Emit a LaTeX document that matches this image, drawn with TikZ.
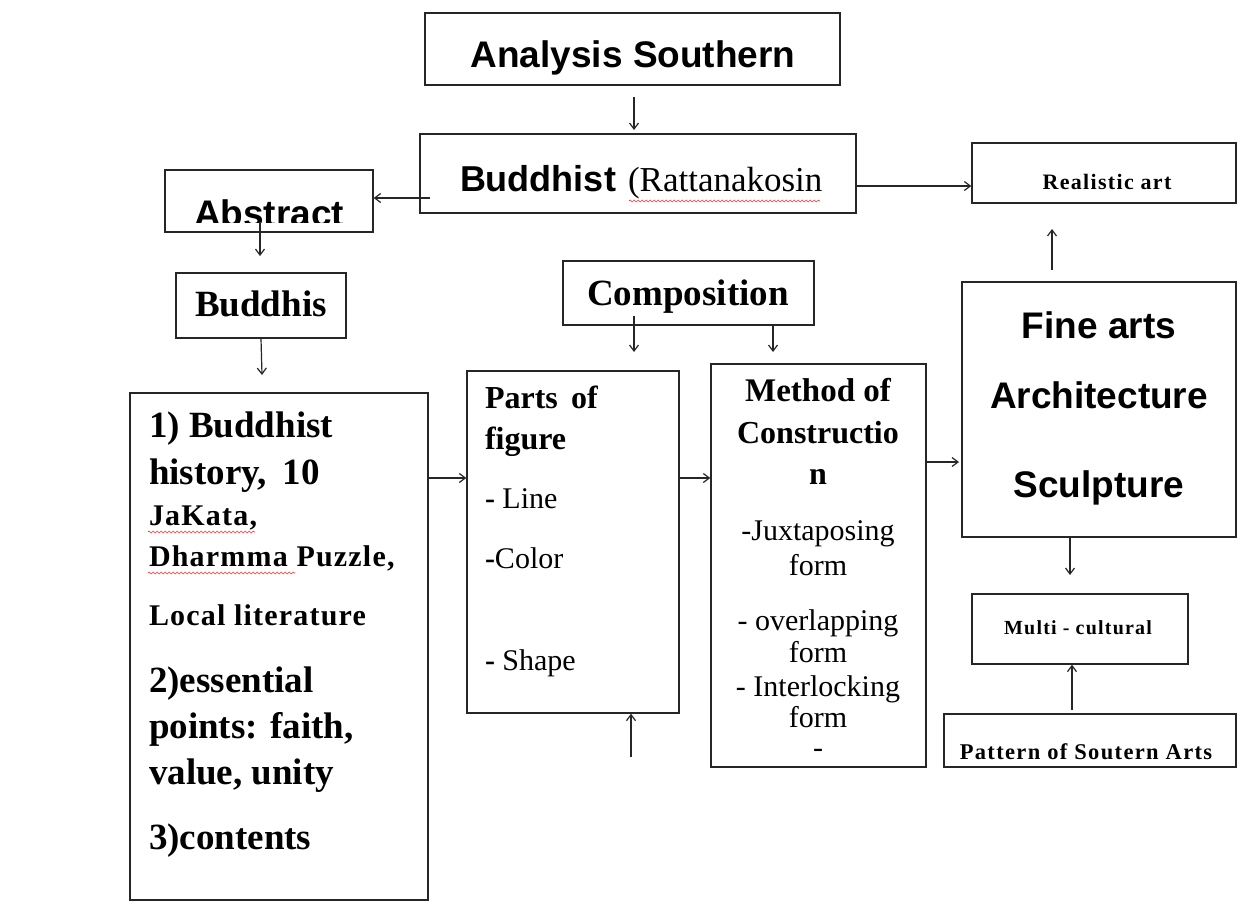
\documentclass[tikz,border=0pt]{standalone}
\usepackage{fontspec}
\setmainfont{Liberation Serif}
\newfontfamily\arialf{Liberation Sans}
\usetikzlibrary{arrows.meta,decorations.pathmorphing}
\tikzset{
  box/.style={draw=black!85, line width=1.4pt, rectangle, inner sep=0pt},
  conn/.style={draw=black!85, line width=1.2pt, -{Straight Barb[length=6pt,width=9pt]}},
  txt/.style={inner sep=0pt, outer sep=0pt},
  wavy/.style={draw=red!80, line width=0.6pt, decorate, decoration={snake, segment length=4pt, amplitude=1pt}},
  sansb/.style={font=\arialf\bfseries\fontsize{37}{42}\selectfont},
  serb/.style={font=\bfseries\fontsize{37}{42}\selectfont},
  serm/.style={font=\bfseries\fontsize{30}{34}\selectfont\addfontfeature{LetterSpace=4}},
  partb/.style={font=\bfseries\fontsize{32}{36}\selectfont},
  partr/.style={font=\fontsize{30}{34}\selectfont},
  smallb/.style={font=\bfseries\fontsize{22}{26}\selectfont\addfontfeature{LetterSpace=6}},
}
\begin{document}
\begin{tikzpicture}[x=1pt,y=-1pt]
\useasboundingbox (0,0) rectangle (1248,903);
\fill[white] (0,0) rectangle (1248,903);
% boxes
\node[box, minimum width=415, minimum height=72] (analysis) at (632.5,49) {};
\node[box, minimum width=436, minimum height=79] (buddhist) at (638,173.5) {};
\node[box, minimum width=208, minimum height=62] (abstract) at (269,201) {};
\node[box, minimum width=170, minimum height=65] (buddhis) at (261,305.5) {};
\node[box, minimum width=298, minimum height=507] (big) at (279,646.5) {};
\node[box, minimum width=251, minimum height=64] (compo) at (688.5,293) {};
\node[box, minimum width=212, minimum height=342] (parts) at (573,542) {};
\node[box, minimum width=215, minimum height=403] (method) at (818.5,565.5) {};
\node[box, minimum width=264, minimum height=60] (real) at (1104,173) {};
\node[box, minimum width=274, minimum height=255] (fine) at (1099,409.5) {};
\node[box, minimum width=216, minimum height=70] (multi) at (1080,629) {};
\node[box, minimum width=292, minimum height=53] (pattern) at (1090,740.5) {};
% texts
\node[txt, sansb, anchor=base] (tanalysis) at (633,67) {Analysis Southern};
\node[txt, sansb, font=\arialf\bfseries\fontsize{36}{40}\selectfont, anchor=base west] (tbud) at (460,191) {Buddhist};
\node[txt, anchor=base west, font=\fontsize{35}{40}\selectfont] (trat) at (628,191) {(Rattanakosin};
\draw[wavy] (629,201) -- (820,201);
\begin{scope}
\clip (165,170) rectangle (373,222);
\node[txt, sansb, anchor=base west] (tabs) at (194,226) {Abstract};
\end{scope}
\node[txt, serb, anchor=base] (tbuddhis) at (261,316) {Buddhis};
\node[txt, serb, anchor=base] (tcompo) at (688,305) {Composition};
% big box text
\node[txt, serb, anchor=base west] (b1) at (149,437) {1) Buddhist};
\node[txt, serb, anchor=base west] (b2) at (149,484) {history,\, 10};
\node[txt, serm, anchor=base west] (b3) at (149,525) {JaKata,};
\draw[wavy] (148,532) -- (255,532);
\node[txt, serm, anchor=base west] (b4) at (149,566) {Dharmma Puzzle,};
\draw[wavy] (148,573) -- (295,573);
\node[txt, serm, anchor=base west] (b5) at (149,625) {Local literature};
\node[txt, serb, anchor=base west] (b6) at (149,692) {2)essential};
\node[txt, serb, anchor=base west] (b7) at (149,738) {points: faith,};
\node[txt, serb, anchor=base west] (b8) at (149,784) {value, unity};
\node[txt, serb, anchor=base west] (b9) at (149,849) {3)contents};
% parts text
\node[txt, partb, anchor=base west] (p1) at (485,408) {Parts\, of};
\node[txt, partb, anchor=base west] (p2) at (485,449) {figure};
\node[txt, partr, anchor=base west] (p3) at (485,508) {\textbf{-} Line};
\node[txt, partr, anchor=base west] (p4) at (485,568) {\textbf{-}Color};
\node[txt, partr, anchor=base west] (p5) at (485,670) {\textbf{-} Shape};
% method text
\node[txt, partb, font=\bfseries\fontsize{33}{36}\selectfont, anchor=base] (m1) at (818,401) {Method of};
\node[txt, partb, anchor=base] (m2) at (818,443) {Constructio};
\node[txt, partb, anchor=base] (m3) at (818,484) {n};
\node[txt, partr, anchor=base] (m4) at (818,540) {-Juxtaposing};
\node[txt, partr, anchor=base] (m5) at (818,575) {form};
\node[txt, partr, anchor=base] (m6) at (818,630) {- overlapping};
\node[txt, partr, anchor=base] (m7) at (818,662) {form};
\node[txt, partr, anchor=base] (m8) at (818,696) {- Interlocking};
\node[txt, partr, anchor=base] (m9) at (818,727) {form};
\node[txt, partr, anchor=base] (m10) at (818,757) {-};
% fine arts text
\node[txt, sansb, anchor=base] (f1) at (1099,338) {Fine arts};
\node[txt, sansb, anchor=base] (f2) at (1099,408) {Architecture};
\node[txt, sansb, anchor=base] (f3) at (1099,497) {Sculpture};
% small texts
\node[txt, smallb, anchor=base] (treal) at (1107,189) {Realistic art};
\node[txt, font=\bfseries\fontsize{20}{24}\selectfont\addfontfeature{LetterSpace=6}, anchor=base] (tmulti) at (1078,634) {Multi - cultural};
\node[txt, font=\bfseries\fontsize{22.5}{26}\selectfont\addfontfeature{LetterSpace=6}, anchor=base] (tpat) at (1086,759) {Pattern of Soutern Arts};
% connector end points
\coordinate (c1) at (634,97);
\coordinate (c2) at (634,130);
\coordinate (c3) at (430,198);
\coordinate (c4) at (260,222);
\coordinate (c5) at (260,256);
\coordinate (c6) at (262,375);
\coordinate (c7) at (634,316);
\coordinate (c8) at (634,352);
\coordinate (c9) at (773,352);
\coordinate (c10) at (631,757);
\coordinate (c11) at (1052,270);
\coordinate (c12) at (1052,229);
\coordinate (c13) at (1070,575);
\coordinate (c14) at (1072,710);
\coordinate (c15) at (959,462);
% connectors
\draw[conn] (c1) -- (c2);
\draw[conn] (c3) -- (abstract.east |- c3);
\draw[conn] (c4) -- (c5);
\draw[conn] (buddhis.south) -- (c6);
\draw[conn] (c7) -- (c8);
\draw[conn] (compo.south -| c9) -- (c9);
\draw[conn] (buddhist.east |- 0,186) -- (real.west |- 0,186);
\draw[conn] (big.east |- 0,478) -- (parts.west |- 0,478);
\draw[conn] (parts.east |- 0,478) -- (method.west |- 0,478);
\draw[conn] (method.east |- c15) -- (c15);
\draw[conn] (c10) -- (parts.south -| c10);
\draw[conn] (c11) -- (c12);
\draw[conn] (fine.south -| c13) -- (c13);
\draw[conn] (c14) -- (multi.south -| c14);
\end{tikzpicture}
\end{document}
